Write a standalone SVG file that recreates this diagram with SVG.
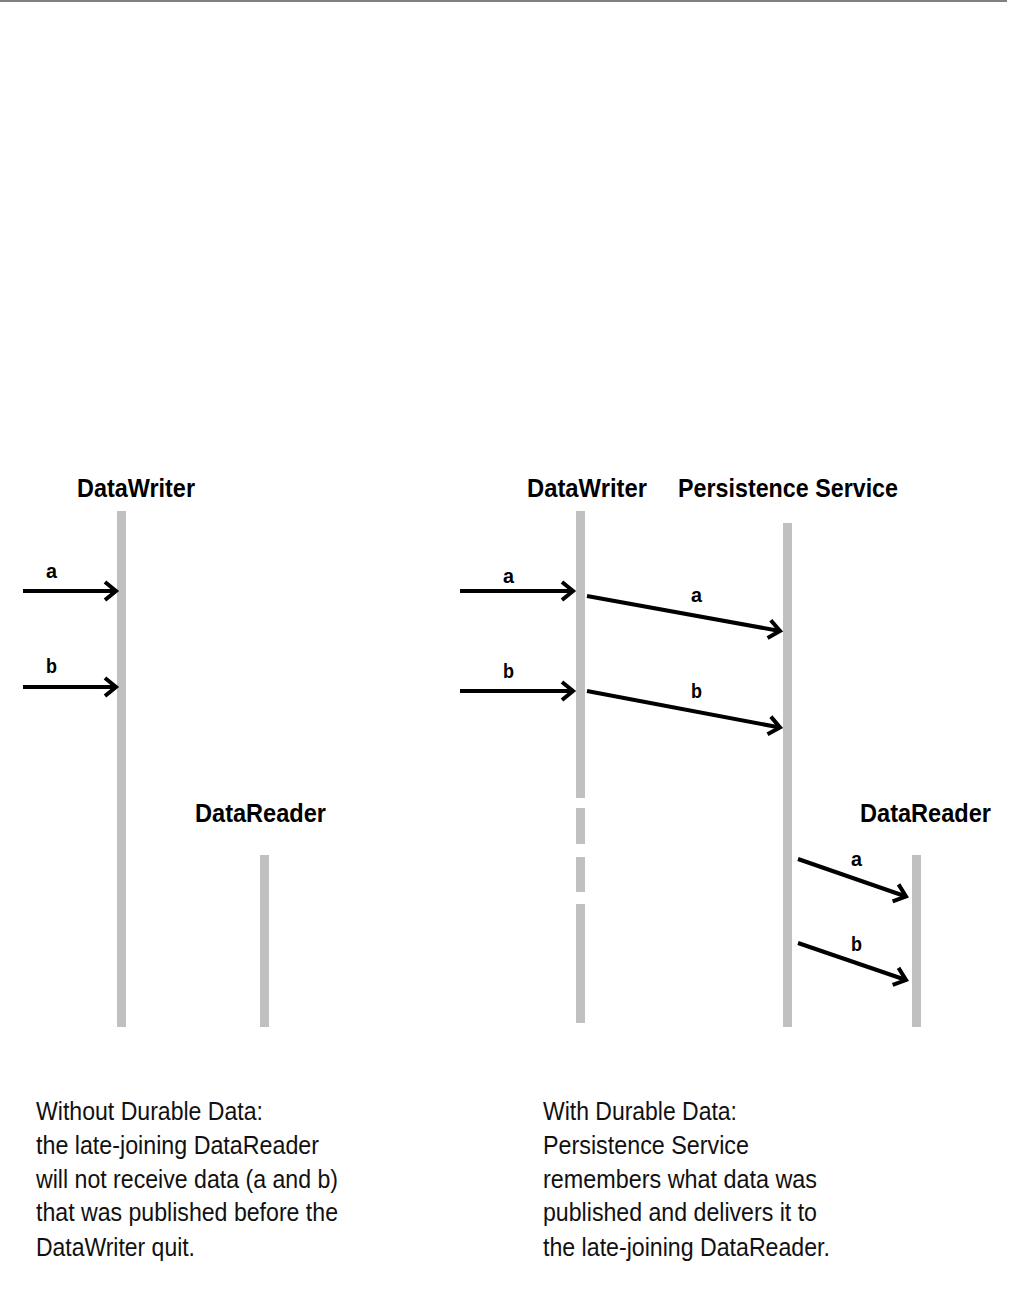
<svg xmlns="http://www.w3.org/2000/svg" width="1010" height="1297" viewBox="0 0 1010 1297">
<style>
.bar{fill:#c0c0c0}
.title{font-family:"Liberation Sans",Arial,sans-serif;font-weight:bold;font-size:25px;fill:#000}
.lbl{font-family:"Liberation Sans",Arial,sans-serif;font-weight:bold;font-size:21px;fill:#000}
.body{font-family:"Liberation Sans",Arial,sans-serif;font-size:25px;fill:#111}
.msg{stroke:#000;stroke-width:4;fill:none;marker-end:url(#head)}
</style>
<defs>
<marker id="head" markerUnits="userSpaceOnUse" viewBox="-16 -12 20 24" markerWidth="20" markerHeight="24" refX="0" refY="0" orient="auto" overflow="visible">
<path d="M-11,-9 L0,0 L-11,9" fill="none" stroke="#000" stroke-width="4"/>
</marker>
</defs>
<rect x="0" y="0" width="1007" height="2" fill="#808080"/>

<g id="left-datawriter">
<rect class="bar" x="117" y="511" width="9" height="516"/>
<text class="title" x="77" y="497" textLength="118" lengthAdjust="spacingAndGlyphs">DataWriter</text>
</g>
<g id="left-datareader">
<rect class="bar" x="260" y="855" width="9" height="172"/>
<text class="title" x="195" y="822" textLength="131" lengthAdjust="spacingAndGlyphs">DataReader</text>
</g>
<g id="right-datawriter">
<rect class="bar" x="576" y="511" width="9" height="287"/>
<rect class="bar" x="576" y="808" width="9" height="36"/>
<rect class="bar" x="576" y="857" width="9" height="35"/>
<rect class="bar" x="576" y="904" width="9" height="119"/>
<text class="title" x="527" y="497" textLength="120" lengthAdjust="spacingAndGlyphs">DataWriter</text>
</g>
<g id="persistence-service">
<rect class="bar" x="783" y="523" width="9" height="504"/>
<text class="title" x="678" y="497" textLength="220" lengthAdjust="spacingAndGlyphs">Persistence Service</text>
</g>
<g id="right-datareader">
<rect class="bar" x="912" y="855" width="9" height="172"/>
<text class="title" x="860" y="822" textLength="131" lengthAdjust="spacingAndGlyphs">DataReader</text>
</g>

<g id="connectors">
<line class="msg" x1="23" y1="591" x2="116" y2="591"/>
<line class="msg" x1="23" y1="687" x2="116" y2="687"/>
<line class="msg" x1="460" y1="591" x2="573" y2="591"/>
<line class="msg" x1="460" y1="691" x2="573" y2="691"/>
<line class="msg" x1="587" y1="596" x2="780" y2="631"/>
<line class="msg" x1="587" y1="691" x2="780" y2="727.5"/>
<line class="msg" x1="798" y1="859" x2="906" y2="896.5"/>
<line class="msg" x1="798" y1="943" x2="906" y2="980"/>
<text class="lbl" x="46" y="578" textLength="11" lengthAdjust="spacingAndGlyphs">a</text>
<text class="lbl" x="46" y="673" textLength="11" lengthAdjust="spacingAndGlyphs">b</text>
<text class="lbl" x="503" y="583" textLength="11" lengthAdjust="spacingAndGlyphs">a</text>
<text class="lbl" x="503" y="678" textLength="11" lengthAdjust="spacingAndGlyphs">b</text>
<text class="lbl" x="691" y="602" textLength="11" lengthAdjust="spacingAndGlyphs">a</text>
<text class="lbl" x="691" y="698" textLength="11" lengthAdjust="spacingAndGlyphs">b</text>
<text class="lbl" x="851" y="866" textLength="11" lengthAdjust="spacingAndGlyphs">a</text>
<text class="lbl" x="851" y="951" textLength="11" lengthAdjust="spacingAndGlyphs">b</text>
</g>

<g id="note-without">
<text class="body" x="36" y="1120" textLength="227" lengthAdjust="spacingAndGlyphs">Without Durable Data:</text>
<text class="body" x="36" y="1154" textLength="283" lengthAdjust="spacingAndGlyphs">the late-joining DataReader</text>
<text class="body" x="36" y="1188" textLength="302" lengthAdjust="spacingAndGlyphs">will not receive data (a and b)</text>
<text class="body" x="36" y="1221" textLength="302" lengthAdjust="spacingAndGlyphs">that was published before the</text>
<text class="body" x="36" y="1256" textLength="159" lengthAdjust="spacingAndGlyphs">DataWriter quit.</text>
</g>
<g id="note-with">
<text class="body" x="543" y="1120" textLength="194" lengthAdjust="spacingAndGlyphs">With Durable Data:</text>
<text class="body" x="543" y="1154" textLength="206" lengthAdjust="spacingAndGlyphs">Persistence Service</text>
<text class="body" x="543" y="1188" textLength="274" lengthAdjust="spacingAndGlyphs">remembers what data was</text>
<text class="body" x="543" y="1221" textLength="274" lengthAdjust="spacingAndGlyphs">published and delivers it to</text>
<text class="body" x="543" y="1256" textLength="287" lengthAdjust="spacingAndGlyphs">the late-joining DataReader.</text>
</g>
</svg>
